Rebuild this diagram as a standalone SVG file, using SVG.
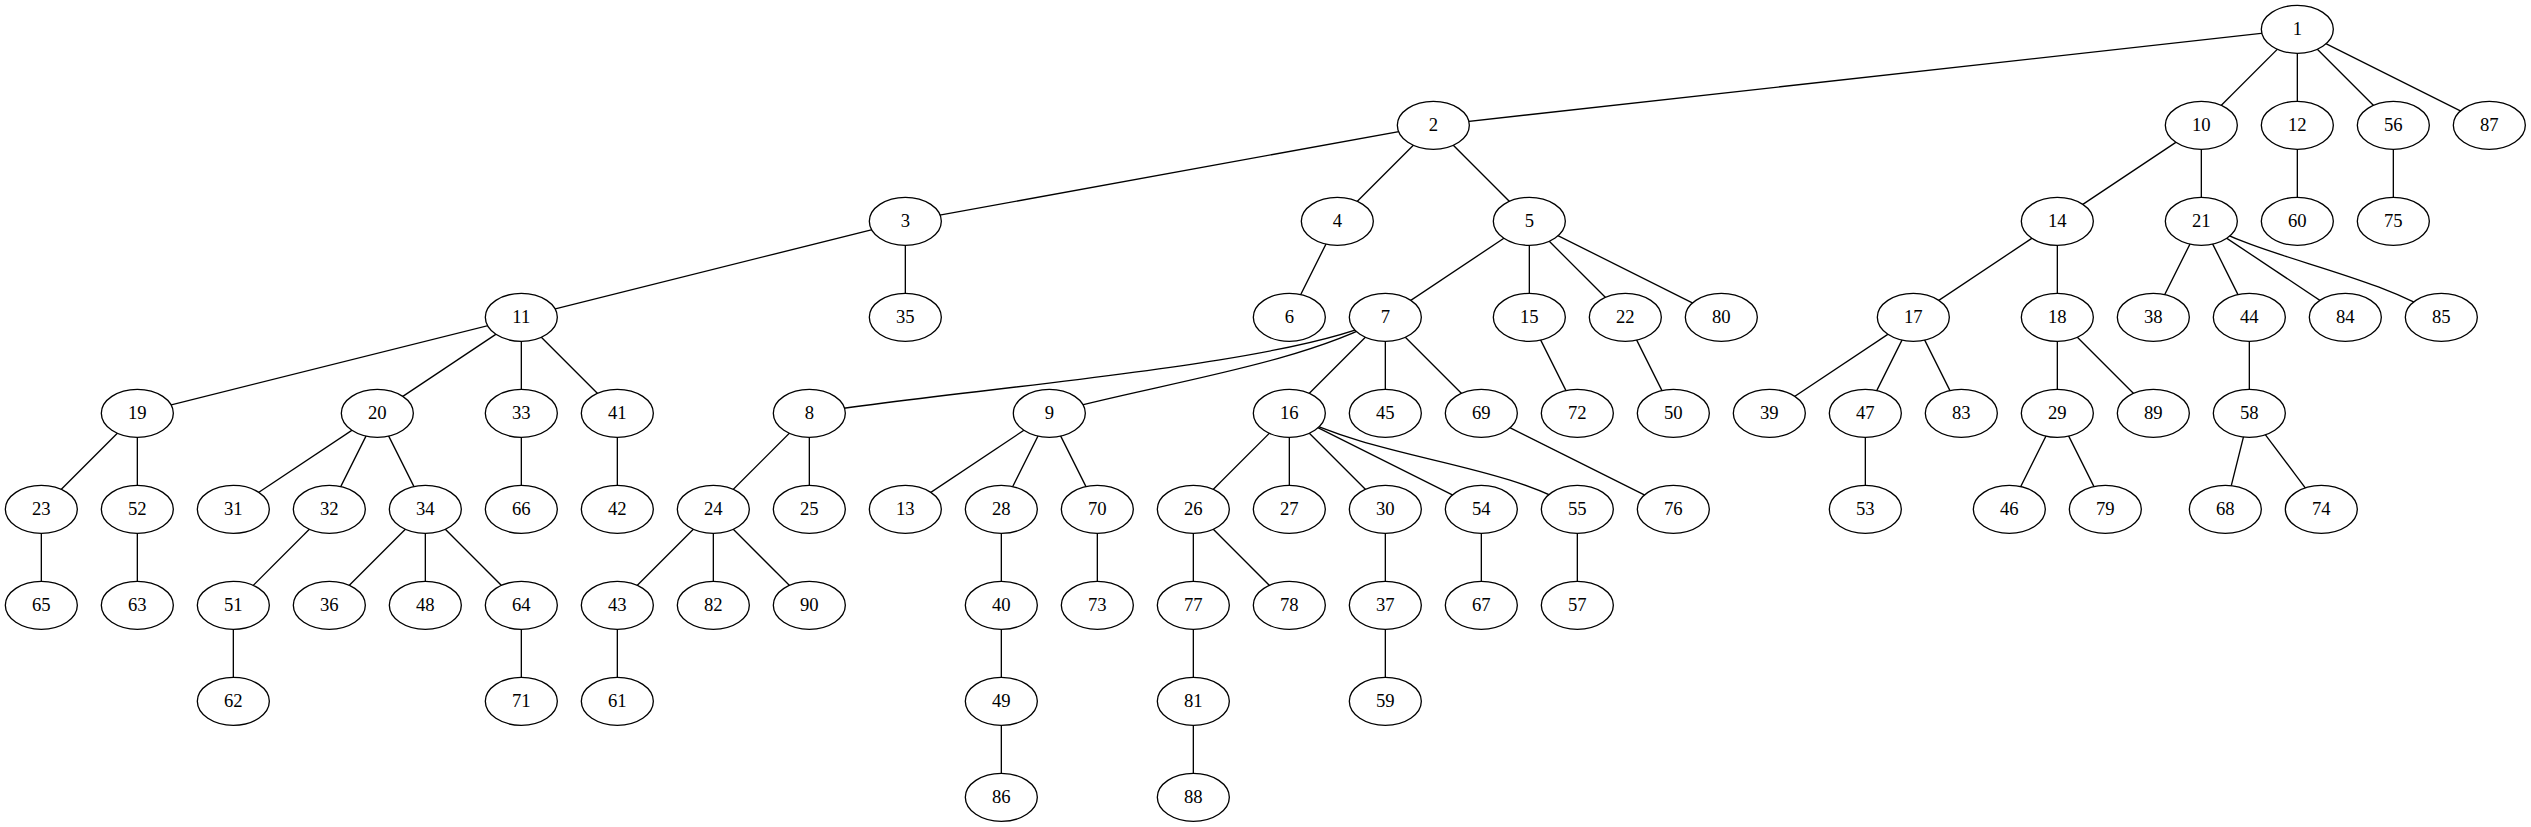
<svg xmlns="http://www.w3.org/2000/svg" width="2531" height="827" viewBox="0 0 2531 827">
<style>
.e{fill:none;stroke:#000;stroke-width:1.33}
.n ellipse{fill:#fff;stroke:#000;stroke-width:1.33}
.n text{font-family:"Liberation Serif","Times New Roman",serif;font-size:18.67px;text-anchor:middle;fill:#000}
</style>
<rect width="2531" height="827" fill="#fff"/>
<g transform="translate(41.33,29.33)">
<g id="edges" class="e">
<path d="M2256,0L1392,96"/><path d="M2256,0L2160,96"/><path d="M2256,0L2256,96"/><path d="M2256,0L2352,96"/><path d="M2256,0L2448,96"/>
<path d="M1392,96L864,192"/><path d="M1392,96L1296,192"/><path d="M1392,96L1488,192"/>
<path d="M864,192L480,288"/><path d="M864,192L864,288"/>
<path d="M1296,192L1248,288"/>
<path d="M1488,192L1344,288"/><path d="M1488,192L1488,288"/><path d="M1488,192L1584,288"/><path d="M1488,192L1680,288"/>
<path d="M1344,288C1258.7,335.7 908.7,360.7 768,384"/><path d="M1344,288C1258.7,335.7 1108.7,355.7 1008,384"/><path d="M1344,288L1248,384"/><path d="M1344,288L1344,384"/><path d="M1344,288L1440,384"/>
<path d="M768,384L672,480"/><path d="M768,384L768,480"/>
<path d="M1008,384L864,480"/><path d="M1008,384L960,480"/><path d="M1008,384L1056,480"/>
<path d="M2160,96L2016,192"/><path d="M2160,96L2160,192"/>
<path d="M480,288L96,384"/><path d="M480,288L336,384"/><path d="M480,288L480,384"/><path d="M480,288L576,384"/>
<path d="M2256,96L2256,192"/>
<path d="M2016,192L1872,288"/><path d="M2016,192L2016,288"/>
<path d="M1488,288L1536,384"/>
<path d="M1248,384L1152,480"/><path d="M1248,384L1248,480"/><path d="M1248,384L1344,480"/><path d="M1248,384L1440,480"/><path d="M1248,384C1338.7,430.7 1458.7,432.7 1536,480"/>
<path d="M1872,288L1728,384"/><path d="M1872,288L1824,384"/><path d="M1872,288L1920,384"/>
<path d="M2016,288L2016,384"/><path d="M2016,288L2112,384"/>
<path d="M96,384L0,480"/><path d="M96,384L96,480"/>
<path d="M336,384L192,480"/><path d="M336,384L288,480"/><path d="M336,384L384,480"/>
<path d="M2160,192L2112,288"/><path d="M2160,192L2208,288"/><path d="M2160,192L2304,288"/><path d="M2160,192C2218.7,228.7 2328.7,242.7 2400,288"/>
<path d="M1584,288L1632,384"/>
<path d="M0,480L0,576"/>
<path d="M672,480L576,576"/><path d="M672,480L672,576"/><path d="M672,480L768,576"/>
<path d="M1152,480L1152,576"/><path d="M1152,480L1248,576"/>
<path d="M960,480L960,576"/>
<path d="M2016,384L1968,480"/><path d="M2016,384L2064,480"/>
<path d="M1344,480L1344,576"/>
<path d="M288,480L192,576"/>
<path d="M480,384L480,480"/>
<path d="M384,480L288,576"/><path d="M384,480L384,576"/><path d="M384,480L480,576"/>
<path d="M1344,576L1344,672"/>
<path d="M960,576L960,672"/>
<path d="M576,384L576,480"/>
<path d="M576,576L576,672"/>
<path d="M2208,288L2208,384"/>
<path d="M1824,384L1824,480"/>
<path d="M960,672L960,768"/>
<path d="M192,576L192,672"/>
<path d="M96,480L96,576"/>
<path d="M1440,480L1440,576"/>
<path d="M1536,480L1536,576"/>
<path d="M2352,96L2352,192"/>
<path d="M2208,384L2184,480"/><path d="M2208,384L2280,480"/>
<path d="M480,576L480,672"/>
<path d="M1440,384L1632,480"/>
<path d="M1056,480L1056,576"/>
<path d="M1152,576L1152,672"/>
<path d="M1152,672L1152,768"/>
</g>
<g id="n1" class="n"><ellipse cx="2256" cy="0" rx="36" ry="24"/><text x="2256" y="6">1</text></g>
<g id="n2" class="n"><ellipse cx="1392" cy="96" rx="36" ry="24"/><text x="1392" y="102">2</text></g>
<g id="n10" class="n"><ellipse cx="2160" cy="96" rx="36" ry="24"/><text x="2160" y="102">10</text></g>
<g id="n12" class="n"><ellipse cx="2256" cy="96" rx="36" ry="24"/><text x="2256" y="102">12</text></g>
<g id="n56" class="n"><ellipse cx="2352" cy="96" rx="36" ry="24"/><text x="2352" y="102">56</text></g>
<g id="n87" class="n"><ellipse cx="2448" cy="96" rx="36" ry="24"/><text x="2448" y="102">87</text></g>
<g id="n3" class="n"><ellipse cx="864" cy="192" rx="36" ry="24"/><text x="864" y="198">3</text></g>
<g id="n4" class="n"><ellipse cx="1296" cy="192" rx="36" ry="24"/><text x="1296" y="198">4</text></g>
<g id="n5" class="n"><ellipse cx="1488" cy="192" rx="36" ry="24"/><text x="1488" y="198">5</text></g>
<g id="n14" class="n"><ellipse cx="2016" cy="192" rx="36" ry="24"/><text x="2016" y="198">14</text></g>
<g id="n21" class="n"><ellipse cx="2160" cy="192" rx="36" ry="24"/><text x="2160" y="198">21</text></g>
<g id="n60" class="n"><ellipse cx="2256" cy="192" rx="36" ry="24"/><text x="2256" y="198">60</text></g>
<g id="n75" class="n"><ellipse cx="2352" cy="192" rx="36" ry="24"/><text x="2352" y="198">75</text></g>
<g id="n11" class="n"><ellipse cx="480" cy="288" rx="36" ry="24"/><text x="480" y="294">11</text></g>
<g id="n35" class="n"><ellipse cx="864" cy="288" rx="36" ry="24"/><text x="864" y="294">35</text></g>
<g id="n6" class="n"><ellipse cx="1248" cy="288" rx="36" ry="24"/><text x="1248" y="294">6</text></g>
<g id="n7" class="n"><ellipse cx="1344" cy="288" rx="36" ry="24"/><text x="1344" y="294">7</text></g>
<g id="n15" class="n"><ellipse cx="1488" cy="288" rx="36" ry="24"/><text x="1488" y="294">15</text></g>
<g id="n22" class="n"><ellipse cx="1584" cy="288" rx="36" ry="24"/><text x="1584" y="294">22</text></g>
<g id="n80" class="n"><ellipse cx="1680" cy="288" rx="36" ry="24"/><text x="1680" y="294">80</text></g>
<g id="n17" class="n"><ellipse cx="1872" cy="288" rx="36" ry="24"/><text x="1872" y="294">17</text></g>
<g id="n18" class="n"><ellipse cx="2016" cy="288" rx="36" ry="24"/><text x="2016" y="294">18</text></g>
<g id="n38" class="n"><ellipse cx="2112" cy="288" rx="36" ry="24"/><text x="2112" y="294">38</text></g>
<g id="n44" class="n"><ellipse cx="2208" cy="288" rx="36" ry="24"/><text x="2208" y="294">44</text></g>
<g id="n84" class="n"><ellipse cx="2304" cy="288" rx="36" ry="24"/><text x="2304" y="294">84</text></g>
<g id="n85" class="n"><ellipse cx="2400" cy="288" rx="36" ry="24"/><text x="2400" y="294">85</text></g>
<g id="n19" class="n"><ellipse cx="96" cy="384" rx="36" ry="24"/><text x="96" y="390">19</text></g>
<g id="n20" class="n"><ellipse cx="336" cy="384" rx="36" ry="24"/><text x="336" y="390">20</text></g>
<g id="n33" class="n"><ellipse cx="480" cy="384" rx="36" ry="24"/><text x="480" y="390">33</text></g>
<g id="n41" class="n"><ellipse cx="576" cy="384" rx="36" ry="24"/><text x="576" y="390">41</text></g>
<g id="n8" class="n"><ellipse cx="768" cy="384" rx="36" ry="24"/><text x="768" y="390">8</text></g>
<g id="n9" class="n"><ellipse cx="1008" cy="384" rx="36" ry="24"/><text x="1008" y="390">9</text></g>
<g id="n16" class="n"><ellipse cx="1248" cy="384" rx="36" ry="24"/><text x="1248" y="390">16</text></g>
<g id="n45" class="n"><ellipse cx="1344" cy="384" rx="36" ry="24"/><text x="1344" y="390">45</text></g>
<g id="n69" class="n"><ellipse cx="1440" cy="384" rx="36" ry="24"/><text x="1440" y="390">69</text></g>
<g id="n72" class="n"><ellipse cx="1536" cy="384" rx="36" ry="24"/><text x="1536" y="390">72</text></g>
<g id="n50" class="n"><ellipse cx="1632" cy="384" rx="36" ry="24"/><text x="1632" y="390">50</text></g>
<g id="n39" class="n"><ellipse cx="1728" cy="384" rx="36" ry="24"/><text x="1728" y="390">39</text></g>
<g id="n47" class="n"><ellipse cx="1824" cy="384" rx="36" ry="24"/><text x="1824" y="390">47</text></g>
<g id="n83" class="n"><ellipse cx="1920" cy="384" rx="36" ry="24"/><text x="1920" y="390">83</text></g>
<g id="n29" class="n"><ellipse cx="2016" cy="384" rx="36" ry="24"/><text x="2016" y="390">29</text></g>
<g id="n89" class="n"><ellipse cx="2112" cy="384" rx="36" ry="24"/><text x="2112" y="390">89</text></g>
<g id="n58" class="n"><ellipse cx="2208" cy="384" rx="36" ry="24"/><text x="2208" y="390">58</text></g>
<g id="n23" class="n"><ellipse cx="0" cy="480" rx="36" ry="24"/><text x="0" y="486">23</text></g>
<g id="n52" class="n"><ellipse cx="96" cy="480" rx="36" ry="24"/><text x="96" y="486">52</text></g>
<g id="n31" class="n"><ellipse cx="192" cy="480" rx="36" ry="24"/><text x="192" y="486">31</text></g>
<g id="n32" class="n"><ellipse cx="288" cy="480" rx="36" ry="24"/><text x="288" y="486">32</text></g>
<g id="n34" class="n"><ellipse cx="384" cy="480" rx="36" ry="24"/><text x="384" y="486">34</text></g>
<g id="n66" class="n"><ellipse cx="480" cy="480" rx="36" ry="24"/><text x="480" y="486">66</text></g>
<g id="n42" class="n"><ellipse cx="576" cy="480" rx="36" ry="24"/><text x="576" y="486">42</text></g>
<g id="n24" class="n"><ellipse cx="672" cy="480" rx="36" ry="24"/><text x="672" y="486">24</text></g>
<g id="n25" class="n"><ellipse cx="768" cy="480" rx="36" ry="24"/><text x="768" y="486">25</text></g>
<g id="n13" class="n"><ellipse cx="864" cy="480" rx="36" ry="24"/><text x="864" y="486">13</text></g>
<g id="n28" class="n"><ellipse cx="960" cy="480" rx="36" ry="24"/><text x="960" y="486">28</text></g>
<g id="n70" class="n"><ellipse cx="1056" cy="480" rx="36" ry="24"/><text x="1056" y="486">70</text></g>
<g id="n26" class="n"><ellipse cx="1152" cy="480" rx="36" ry="24"/><text x="1152" y="486">26</text></g>
<g id="n27" class="n"><ellipse cx="1248" cy="480" rx="36" ry="24"/><text x="1248" y="486">27</text></g>
<g id="n30" class="n"><ellipse cx="1344" cy="480" rx="36" ry="24"/><text x="1344" y="486">30</text></g>
<g id="n54" class="n"><ellipse cx="1440" cy="480" rx="36" ry="24"/><text x="1440" y="486">54</text></g>
<g id="n55" class="n"><ellipse cx="1536" cy="480" rx="36" ry="24"/><text x="1536" y="486">55</text></g>
<g id="n76" class="n"><ellipse cx="1632" cy="480" rx="36" ry="24"/><text x="1632" y="486">76</text></g>
<g id="n53" class="n"><ellipse cx="1824" cy="480" rx="36" ry="24"/><text x="1824" y="486">53</text></g>
<g id="n46" class="n"><ellipse cx="1968" cy="480" rx="36" ry="24"/><text x="1968" y="486">46</text></g>
<g id="n79" class="n"><ellipse cx="2064" cy="480" rx="36" ry="24"/><text x="2064" y="486">79</text></g>
<g id="n68" class="n"><ellipse cx="2184" cy="480" rx="36" ry="24"/><text x="2184" y="486">68</text></g>
<g id="n74" class="n"><ellipse cx="2280" cy="480" rx="36" ry="24"/><text x="2280" y="486">74</text></g>
<g id="n65" class="n"><ellipse cx="0" cy="576" rx="36" ry="24"/><text x="0" y="582">65</text></g>
<g id="n63" class="n"><ellipse cx="96" cy="576" rx="36" ry="24"/><text x="96" y="582">63</text></g>
<g id="n51" class="n"><ellipse cx="192" cy="576" rx="36" ry="24"/><text x="192" y="582">51</text></g>
<g id="n36" class="n"><ellipse cx="288" cy="576" rx="36" ry="24"/><text x="288" y="582">36</text></g>
<g id="n48" class="n"><ellipse cx="384" cy="576" rx="36" ry="24"/><text x="384" y="582">48</text></g>
<g id="n64" class="n"><ellipse cx="480" cy="576" rx="36" ry="24"/><text x="480" y="582">64</text></g>
<g id="n43" class="n"><ellipse cx="576" cy="576" rx="36" ry="24"/><text x="576" y="582">43</text></g>
<g id="n82" class="n"><ellipse cx="672" cy="576" rx="36" ry="24"/><text x="672" y="582">82</text></g>
<g id="n90" class="n"><ellipse cx="768" cy="576" rx="36" ry="24"/><text x="768" y="582">90</text></g>
<g id="n40" class="n"><ellipse cx="960" cy="576" rx="36" ry="24"/><text x="960" y="582">40</text></g>
<g id="n73" class="n"><ellipse cx="1056" cy="576" rx="36" ry="24"/><text x="1056" y="582">73</text></g>
<g id="n77" class="n"><ellipse cx="1152" cy="576" rx="36" ry="24"/><text x="1152" y="582">77</text></g>
<g id="n78" class="n"><ellipse cx="1248" cy="576" rx="36" ry="24"/><text x="1248" y="582">78</text></g>
<g id="n37" class="n"><ellipse cx="1344" cy="576" rx="36" ry="24"/><text x="1344" y="582">37</text></g>
<g id="n67" class="n"><ellipse cx="1440" cy="576" rx="36" ry="24"/><text x="1440" y="582">67</text></g>
<g id="n57" class="n"><ellipse cx="1536" cy="576" rx="36" ry="24"/><text x="1536" y="582">57</text></g>
<g id="n62" class="n"><ellipse cx="192" cy="672" rx="36" ry="24"/><text x="192" y="678">62</text></g>
<g id="n71" class="n"><ellipse cx="480" cy="672" rx="36" ry="24"/><text x="480" y="678">71</text></g>
<g id="n61" class="n"><ellipse cx="576" cy="672" rx="36" ry="24"/><text x="576" y="678">61</text></g>
<g id="n49" class="n"><ellipse cx="960" cy="672" rx="36" ry="24"/><text x="960" y="678">49</text></g>
<g id="n81" class="n"><ellipse cx="1152" cy="672" rx="36" ry="24"/><text x="1152" y="678">81</text></g>
<g id="n59" class="n"><ellipse cx="1344" cy="672" rx="36" ry="24"/><text x="1344" y="678">59</text></g>
<g id="n86" class="n"><ellipse cx="960" cy="768" rx="36" ry="24"/><text x="960" y="774">86</text></g>
<g id="n88" class="n"><ellipse cx="1152" cy="768" rx="36" ry="24"/><text x="1152" y="774">88</text></g>
</g>
</svg>
